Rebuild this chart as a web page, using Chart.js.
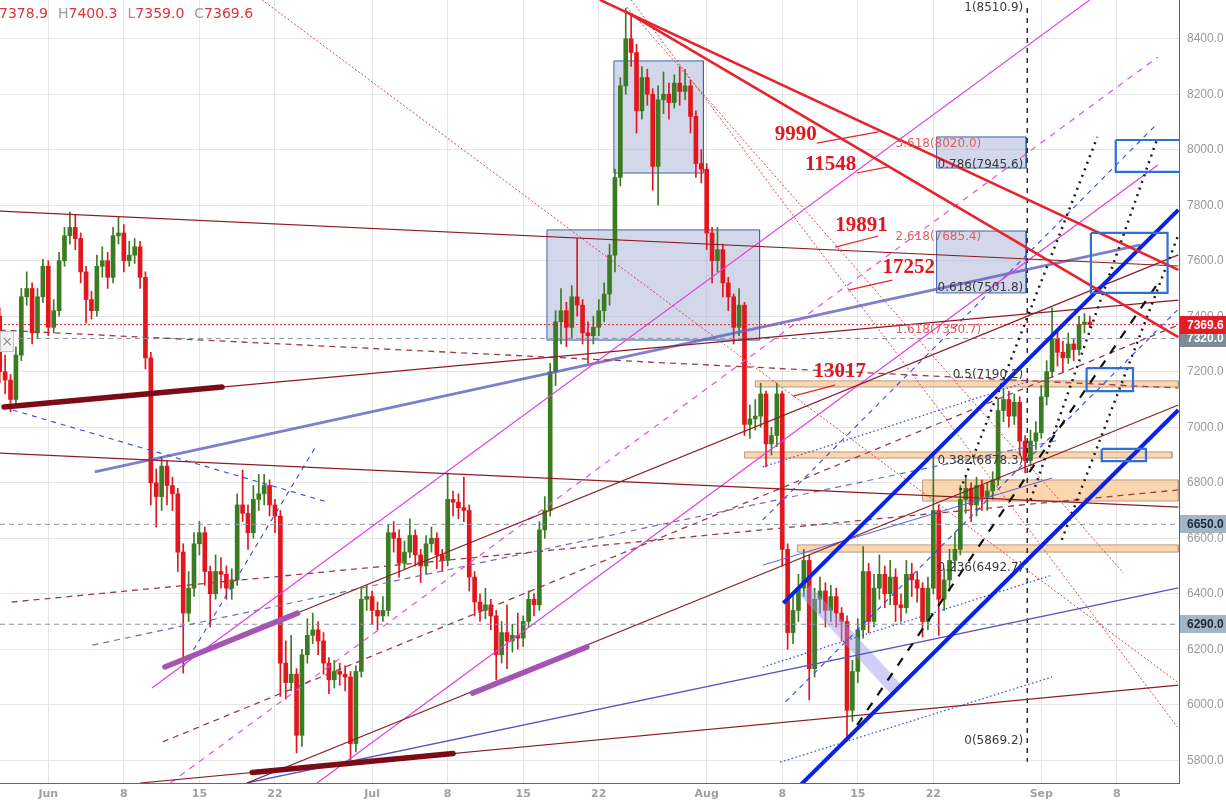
<!DOCTYPE html>
<html>
<head>
<meta charset="utf-8">
<script src="https://cdn.jsdelivr.net/npm/chart.js@4.4.1/dist/chart.umd.min.js"></script>
<style>
  html, body { margin: 0; padding: 0; background: #fff; }
  #wrap { width: 1226px; height: 806px; }
</style>
</head>
<body>
<div id="wrap"><canvas id="chart" width="1226" height="806"></canvas></div>
<script>
// 12h candles, time in days from 1 Jun
const candleStart = -4.5;
const candleStep = 0.5;
const firstOpen = 7400;

const closes = [
  7200, 7170, 7100, 7260, 7470, 7500, 7340, 7470, 7580, 7360,
  7420, 7600, 7690, 7720, 7680, 7560, 7460, 7420, 7580, 7600,
  7540, 7690, 7700, 7600, 7620, 7650, 7540, 7250, 6800, 6750,
  6860, 6790, 6760, 6550, 6330, 6420, 6580, 6620, 6480, 6400,
  6480, 6470, 6420, 6450, 6720, 6690, 6620, 6740, 6760, 6790,
  6720, 6680, 6150, 6080, 6110, 5890, 6180, 6250, 6270, 6230,
  6150, 6090, 6120, 6110, 6100, 5860, 6120, 6380, 6390, 6340,
  6320, 6340, 6620, 6600, 6510, 6550, 6610, 6540, 6500, 6580,
  6600, 6540, 6520, 6740, 6730, 6710, 6700, 6460, 6370, 6340,
  6360, 6320, 6180, 6260, 6230, 6250, 6240, 6300, 6380, 6360,
  6630, 6700, 7200, 7380, 7420, 7360, 7470, 7440, 7340, 7330,
  7360, 7420, 7480, 7620, 7900, 8230, 8400, 8350, 8140, 8260,
  8200, 7940, 8180, 8200, 8170, 8240, 8210, 8230, 8120, 7950,
  7930, 7700, 7600, 7640, 7520, 7470, 7360, 7440, 7010, 7030,
  7040, 7120, 6940, 6970, 7120, 6560, 6260, 6340, 6420, 6520,
  6130, 6380, 6410, 6340, 6390, 6330, 6300, 5980, 6120, 6270,
  6480, 6300, 6420, 6470, 6400, 6460, 6360, 6350, 6470, 6450,
  6420, 6300, 6420, 6700, 6380, 6450, 6520, 6560, 6740, 6780,
  6720, 6790, 6750, 6770, 6810, 7060, 7100, 7040, 7090, 6950,
  6880, 6950, 6980, 7110, 7200, 7320, 7270, 7250, 7300, 7280,
  7370, 7378.9, 7369.6
];

const highs = [
  7430, 7260, 7190, 7290, 7500, 7560, 7520, 7500, 7605, 7600,
  7460, 7630, 7720, 7775, 7765, 7700, 7580, 7490, 7620, 7650,
  7630, 7720, 7757, 7730, 7670, 7680, 7670, 7560, 7270, 6850,
  6893, 6880, 6820, 6780, 6580, 6480, 6620, 6660, 6640, 6500,
  6540, 6530, 6500, 6490, 6760, 6846, 6720, 6790, 6830, 6830,
  6810, 6740, 6700, 6230, 6250, 6130, 6200, 6310, 6330, 6300,
  6260, 6170, 6160, 6150, 6140, 6120, 6140, 6420, 6430, 6410,
  6370, 6390, 6650, 6660, 6630, 6590, 6670, 6630, 6560, 6610,
  6640, 6620, 6560, 6835, 6770, 6760, 6820, 6720, 6480, 6400,
  6420, 6380, 6340, 6300, 6360, 6290, 6330, 6320, 6410, 6400,
  6660, 6750, 7230, 7420, 7500, 7450, 7510, 7681, 7460, 7380,
  7400, 7460, 7520, 7660, 7930, 8260, 8510, 8490, 8380, 8300,
  8290, 8220, 8230, 8280, 8240, 8270, 8300, 8290, 8250, 8140,
  8000, 7950, 7720, 7720, 7660, 7540, 7480, 7500, 7450, 7080,
  7100, 7159, 7130, 7000, 7159, 7130, 6580, 6400, 6470, 6560,
  6540, 6420, 6460, 6440, 6430, 6420, 6350, 6320, 6160, 6310,
  6570, 6510, 6470, 6540, 6500, 6520, 6490, 6400, 6520, 6510,
  6480, 6440, 6460, 6910, 6720, 6490, 6560, 6620, 6790, 6820,
  6800, 6820, 6810, 6800, 6840, 7100, 7140, 7130, 7120, 7110,
  6970, 6990, 7020, 7150, 7240, 7430, 7350, 7310, 7340, 7320,
  7400, 7410, 7400.3
];

const lows = [
  7160, 7120, 7055, 7080, 7240, 7440, 7300, 7320, 7450, 7330,
  7340, 7400, 7580, 7660, 7640, 7520, 7375, 7390, 7400, 7540,
  7500, 7520, 7660, 7560, 7580, 7590, 7500, 7210, 6720, 6640,
  6700, 6720, 6700, 6480, 6114, 6300, 6390, 6540, 6430, 6280,
  6380, 6420, 6380, 6380, 6430, 6660, 6560, 6600, 6700, 6720,
  6680, 6620, 6030, 6020, 6050, 5826, 5850, 6150, 6220, 6180,
  6110, 6040, 6060, 6070, 6050, 5801, 5830, 6100, 6340, 6290,
  6270, 6300, 6320, 6550, 6460, 6490, 6530, 6500, 6440, 6470,
  6550, 6490, 6480, 6500, 6680, 6670, 6660, 6410, 6320, 6300,
  6310, 6270, 6089, 6150, 6130, 6190, 6200, 6210, 6280, 6320,
  6340, 6600, 6680, 7150, 7300, 7290, 7320, 7400, 7300, 7231,
  7300, 7330, 7380, 7440, 7560, 7870, 8200, 8300, 8060, 8110,
  8160, 7854, 7800, 8130, 8110, 8150, 8160, 8180, 8060, 7900,
  7880, 7640, 7520, 7560, 7470, 7420, 7300, 7330, 6970, 6960,
  6990, 7000, 6857, 6900, 6930, 6500, 6200, 6220, 6300, 6390,
  6017, 6100, 6330, 6280, 6300, 6280, 6230, 5869, 5940, 6080,
  6240, 6260, 6280, 6380, 6350, 6360, 6300, 6300, 6330, 6390,
  6370, 6244, 6270, 6400, 6250, 6340, 6410, 6480, 6540, 6690,
  6660, 6680, 6700, 6700, 6740, 6790, 7020, 7000, 7010, 6900,
  6835, 6860, 6920, 6960, 7080, 7180, 7220, 7200, 7230, 7240,
  7260, 7340, 7359.0
];

// x axis
const tickDays = [0, 7, 14, 21, 30, 37, 44, 51, 61, 68, 75, 82, 92, 99];
const tickLabels = ['Jun', '8', '15', '22', 'Jul', '8', '15', '22', 'Aug', '8', '15', '22', 'Sep', '8'];
const yTicks = [5800, 6000, 6200, 6400, 6600, 6800, 7000, 7200, 7400, 7600, 7800, 8000, 8200, 8400];

// drawn trend lines: [kind, day1, price1, day2, price2]
const trendLines = [
  ['band', 70.1, 6413, 78.6, 6053],
  ['maroon', -4.5, 7779, 104.7, 7581],
  ['maroon', -4.5, 6907, 104.7, 6712],
  ['maroon', -4.1, 7073, 104.7, 7458],
  ['maroon', 8.5, 5718, 104.7, 6071],
  ['maroon', 18.4, 5718, 104.7, 7080],
  ['maroon', 23.3, 6334, 104.7, 7621],
  ['maroonDash', -4.5, 7350, 104.7, 7141],
  ['maroonDash', -3.4, 6370, 104.7, 6774],
  ['maroonDash', 10.6, 5866, 104.7, 7368],
  ['magenta', 9.6, 6060, 96.5, 8540],
  ['magenta', 24.9, 5718, 102.8, 7945],
  ['magentaDash', 11.3, 5718, 102.8, 8334],
  ['slateWide', 4.3, 6839, 101.2, 7657],
  ['slate', 18.4, 5718, 104.7, 6421],
  ['slateDash', 4.1, 6215, 93.7, 6954],
  ['blueDash', -3.3, 7062, 25.9, 6730],
  ['blueDash', 12.5, 6136, 24.7, 6925],
  ['blueDash', 66.2, 6666, 102.8, 8096],
  ['blueDash', 68.3, 6010, 104.6, 7422],
  ['blueDot', 66.2, 6857, 90.7, 7163],
  ['blueThin', 66.2, 6503, 93.0, 6817],
  ['blueDot', 66.2, 6136, 93.0, 6467],
  ['blueDot', 67.8, 5793, 93.0, 6100],
  ['redDot', 19.8, 8540, 104.6, 6082],
  ['redDot', 53.6, 8514, 99.6, 6475],
  ['redDot', 54.0, 8540, 104.6, 5920],
  ['maroonThick', -4.1, 7073, 16.1, 7145],
  ['maroonThick', 18.9, 5756, 37.5, 5824],
  ['purpleThick', 10.8, 6136, 23.1, 6330],
  ['purpleThick', 39.3, 6042, 49.9, 6208],
  ['blackDash', 74.0, 5873, 103.0, 7530],
  ['blackDot', 84.5, 6774, 97.2, 8046],
  ['blackDot', 91.0, 6738, 102.7, 8035],
  ['blackDot', 93.9, 6594, 104.7, 7693],
  ['blueThick', 68.1, 6366, 104.7, 7783],
  ['blueThick', 69.7, 5711, 104.7, 7062],
  ['redThick', 51.1, 8540, 104.7, 7567],
  ['redThick', 53.6, 8496, 104.7, 7325],
  ['pointer', 71.2, 8024, 76.9, 8064],
  ['pointer', 74.9, 7916, 77.8, 7938],
  ['pointer', 72.9, 7649, 76.9, 7689],
  ['pointer', 74.1, 7494, 78.2, 7530],
  ['pointer', 69.0, 7112, 72.9, 7152]
];

// rectangles: [kind, day1, price1, day2, price2]
const zoneBoxes = [
  ['shade', 52.4, 8320, 60.7, 7916],
  ['shade', 46.2, 7711, 65.9, 7314],
  ['shade', 82.3, 8046, 90.6, 7934],
  ['shade', 82.3, 7707, 90.6, 7484],
  ['orange', 65.5, 7167, 104.7, 7145],
  ['orange', 64.5, 6911, 104.1, 6889],
  ['orange', 81.0, 6810, 104.7, 6734],
  ['orange', 69.4, 6576, 104.7, 6550],
  ['outline', 98.9, 8035, 106.0, 7920],
  ['outline', 96.6, 7700, 103.7, 7484],
  ['outline', 96.2, 7213, 100.5, 7130],
  ['outline', 97.6, 6922, 101.7, 6878]
];

// fib retracement / extension
const fibRatios = ['1', '3.618', '0.786', '2.618', '0.618', '1.618', '0.5', '0.382', '0.236', '0'];
const fibPrices = [8510.9, 8020.0, 7945.6, 7685.4, 7501.8, 7350.7, 7190.2, 6878.3, 6492.7, 5869.2];
const fibDay = 90.7;
const fibExtDay = 78.5;

// volume notes written on the chart
const noteTexts = ['9990', '11548', '19891', '17252', '13017'];
const noteDays = [67.3, 70.1, 72.9, 77.3, 70.9];
const notePrices = [8053, 7945, 7725, 7577, 7199];

// horizontal levels marked on the price axis
const levelPrices = [7320, 6650, 6290];

const lineStyles = {
  band:        { color: 'rgba(150,150,235,0.45)', width: 14, order: 9 },
  maroon:      { color: '#8c1d25', width: 1.2, order: 8 },
  maroonDash:  { color: '#9c3b4a', width: 1.3, dash: [6, 5], order: 8 },
  maroonThick: { color: '#7c0b18', width: 5.5, cap: 'round', order: 6 },
  magenta:     { color: '#e23fe0', width: 1.2, order: 8 },
  magentaDash: { color: '#e24fe0', width: 1.2, dash: [6, 6], order: 8 },
  slate:       { color: '#5a52c0', width: 1.3, order: 8 },
  slateWide:   { color: 'rgba(95,95,190,0.8)', width: 3, order: 8 },
  slateDash:   { color: '#7868c0', width: 1.2, dash: [6, 5], order: 8 },
  purpleThick: { color: '#a455b4', width: 5.5, cap: 'round', order: 6 },
  blueThick:   { color: '#0a22e8', width: 4, order: 3 },
  blueDash:    { color: '#3545ea', width: 1.1, dash: [5, 5], order: 8 },
  blueDot:     { color: '#3f4fe6', width: 1.3, dash: [1.5, 2.5], order: 8 },
  blueThin:    { color: '#5561ea', width: 1, order: 8 },
  blackDash:   { color: '#111111', width: 2.2, dash: [9, 9], order: 4 },
  blackDot:    { color: '#1a1a1a', width: 2.5, dash: [2, 5], order: 4 },
  redDot:      { color: '#e0454e', width: 1, dash: [2, 2], order: 8 },
  redThick:    { color: '#e8232b', width: 2.6, order: 2 },
  pointer:     { color: '#e8232b', width: 1.2, order: 2 },
  lastPrice:   { color: '#d8202a', width: 1, dash: [2, 2], order: 8 },
  level:       { color: '#8796a6', width: 1, dash: [5, 4], order: 8 },
  fibTime:     { color: '#111111', width: 1.3, dash: [5, 5], order: 8 }
};

const boxStyles = {
  shade:   { fill: 'rgba(165,178,214,0.5)', border: '#3d63b3', width: 1 },
  orange:  { fill: 'rgba(249,196,140,0.7)', border: '#b99a84', width: 1 },
  outline: { fill: 'rgba(255,255,255,0)', border: '#2e6fd8', width: 2.2 }
};

const X_MIN = -4.475;
const X_MAX = 104.76;
const Y_MIN = 5718;
const Y_MAX = 8539.5;

function lineDataset(kind, d1, p1, d2, p2) {
  const s = lineStyles[kind];
  return {
    type: 'line',
    data: [{ x: d1, y: p1 }, { x: d2, y: p2 }],
    borderColor: s.color,
    borderWidth: s.width,
    borderDash: s.dash || [],
    borderCapStyle: s.cap || 'butt',
    pointRadius: 0,
    fill: false,
    tension: 0,
    clip: 0,
    order: s.order
  };
}

function boxDataset(kind, d1, p1, d2, p2) {
  const s = boxStyles[kind];
  return {
    type: 'line',
    data: [
      { x: d1, y: p1 }, { x: d2, y: p1 }, { x: d2, y: p2 }, { x: d1, y: p2 }, { x: d1, y: p1 }
    ],
    borderColor: s.border,
    borderWidth: s.width,
    backgroundColor: s.fill,
    fill: 'shape',
    pointRadius: 0,
    tension: 0,
    clip: 0,
    order: kind === 'outline' ? 1 : 30
  };
}

function buildDatasets() {
  const sets = [];
  const opens = closes.map((c, i) => (i === 0 ? firstOpen : closes[i - 1]));
  const days = closes.map((c, i) => candleStart + i * candleStep);
  const colors = closes.map((c, i) => (c >= opens[i] ? '#3b7b22' : '#e3161d'));

  sets.push({
    type: 'bar',
    data: days.map((d, i) => ({ x: d, y: [opens[i], closes[i]] })),
    backgroundColor: colors,
    barThickness: 4,
    minBarLength: 1,
    grouped: false,
    order: 20
  });
  sets.push({
    type: 'bar',
    data: days.map((d, i) => ({ x: d, y: [lows[i], highs[i]] })),
    backgroundColor: colors,
    barThickness: 1,
    grouped: false,
    order: 20
  });

  for (const b of zoneBoxes) sets.push(boxDataset(...b));
  for (const l of trendLines) sets.push(lineDataset(...l));

  for (const p of levelPrices) sets.push(lineDataset('level', X_MIN, p, X_MAX, p));
  sets.push(lineDataset('lastPrice', X_MIN, closes[closes.length - 1], X_MAX, closes[closes.length - 1]));
  sets.push(lineDataset('fibTime', fibDay, fibPrices[0], fibDay, 5795));
  return sets;
}

const overlay = {
  id: 'overlay',
  beforeDraw(chart) {
    const ctx = chart.ctx;
    ctx.save();
    ctx.fillStyle = '#ffffff';
    ctx.fillRect(0, 0, chart.width, chart.height);
    ctx.restore();
  },
  afterDatasetsDraw(chart) {
    const { ctx, chartArea, scales: { x, y } } = chart;
    ctx.save();
    ctx.beginPath();
    ctx.rect(chartArea.left, chartArea.top, chartArea.width, chartArea.height);
    ctx.clip();

    ctx.font = '12px "DejaVu Sans"';
    ctx.textBaseline = 'middle';
    for (let i = 0; i < fibRatios.length; i++) {
      const py = y.getPixelForValue(fibPrices[i]);
      const txt = `${fibRatios[i]}(${fibPrices[i].toFixed(1)})`;
      if (parseFloat(fibRatios[i]) > 1) {
        ctx.fillStyle = '#e25c5c';
        ctx.textAlign = 'left';
        ctx.fillText(txt, x.getPixelForValue(fibExtDay), py);
      } else {
        ctx.fillStyle = '#3a3a3a';
        ctx.textAlign = 'right';
        ctx.fillText(txt, x.getPixelForValue(fibDay) - 4, py);
      }
    }

    ctx.font = 'bold 21px "Liberation Serif"';
    ctx.fillStyle = '#e3151d';
    ctx.textAlign = 'left';
    for (let i = 0; i < noteTexts.length; i++) {
      ctx.fillText(noteTexts[i], x.getPixelForValue(noteDays[i]), y.getPixelForValue(notePrices[i]));
    }
    ctx.restore();
  },
  afterDraw(chart) {
    const { ctx, chartArea, scales: { y } } = chart;
    const left = chartArea.right + 1;
    const w = chart.width - left;

    function tag(price, bg, fg) {
      const py = Math.round(y.getPixelForValue(price));
      ctx.fillStyle = bg;
      ctx.fillRect(left, py - 9, w, 18);
      ctx.fillStyle = fg;
      ctx.font = 'bold 12px "Liberation Sans"';
      ctx.textAlign = 'left';
      ctx.textBaseline = 'middle';
      ctx.fillText(price.toFixed(1), left + 7, py + 1);
    }

    ctx.save();
    tag(levelPrices[0], '#7f8a96', '#ffffff');
    tag(levelPrices[1], '#a3b5c4', '#1d2b38');
    tag(levelPrices[2], '#a3b5c4', '#1d2b38');
    tag(closes[closes.length - 1], '#e51c23', '#ffffff');

    // OHLC header of the last candle
    const last = closes.length - 1;
    const parts = [
      ['O', closes[last - 1]], ['H', highs[last]], ['L', lows[last]], ['C', closes[last]]
    ];
    ctx.font = '14px "DejaVu Sans"';
    ctx.textBaseline = 'middle';
    ctx.textAlign = 'left';
    let px = -12;
    for (const [k, v] of parts) {
      ctx.fillStyle = '#9a9a9a';
      ctx.fillText(k, px, 14);
      px += ctx.measureText(k).width;
      const s = v.toFixed(1);
      ctx.fillStyle = '#e0313a';
      ctx.fillText(s, px, 14);
      px += ctx.measureText(s).width + 10;
    }

    // small close button on the left
    ctx.fillStyle = '#f3f3f3';
    ctx.strokeStyle = '#c4c4c4';
    ctx.lineWidth = 1;
    ctx.fillRect(0, 331, 14, 21);
    ctx.strokeRect(0.5, 331.5, 13, 20);
    ctx.fillStyle = '#8a8a8a';
    ctx.font = '14px "DejaVu Sans"';
    ctx.textAlign = 'center';
    ctx.fillText('\u00d7', 7, 342);
    ctx.restore();
  }
};

const chart = new Chart(document.getElementById('chart'), {
  type: 'bar',
  data: { datasets: buildDatasets() },
  options: {
    responsive: false,
    animation: false,
    devicePixelRatio: 1,
    layout: { padding: 0 },
    plugins: { legend: { display: false }, tooltip: { enabled: false } },
    scales: {
      x: {
        type: 'linear',
        min: X_MIN,
        max: X_MAX,
        offset: false,
        grid: { color: '#e6e6e6', drawTicks: false, offset: false },
        border: { display: true, color: '#666666' },
        ticks: {
          autoSkip: false,
          maxRotation: 0,
          padding: 5,
          color: '#a0a0a0',
          font: { family: 'DejaVu Sans', size: 11, weight: 'bold' },
          callback: (v) => tickLabels[tickDays.indexOf(v)] ?? ''
        },
        afterBuildTicks: (s) => { s.ticks = tickDays.map((v) => ({ value: v })); },
        afterFit: (s) => { s.height = 23; s.paddingLeft = 0; s.paddingRight = 0; }
      },
      y: {
        type: 'linear',
        position: 'right',
        min: Y_MIN,
        max: Y_MAX,
        grid: { color: '#e6e6e6', drawTicks: false },
        border: { display: true, color: '#666666' },
        ticks: {
          autoSkip: false,
          padding: 8,
          color: '#999999',
          font: { family: 'Liberation Sans', size: 12 },
          callback: (v) => Number(v).toFixed(1)
        },
        afterBuildTicks: (s) => { s.ticks = yTicks.map((v) => ({ value: v })); },
        afterFit: (s) => { s.width = 47; s.paddingTop = 0; s.paddingBottom = 0; }
      }
    }
  },
  plugins: [overlay]
});
</script>
</body>
</html>
